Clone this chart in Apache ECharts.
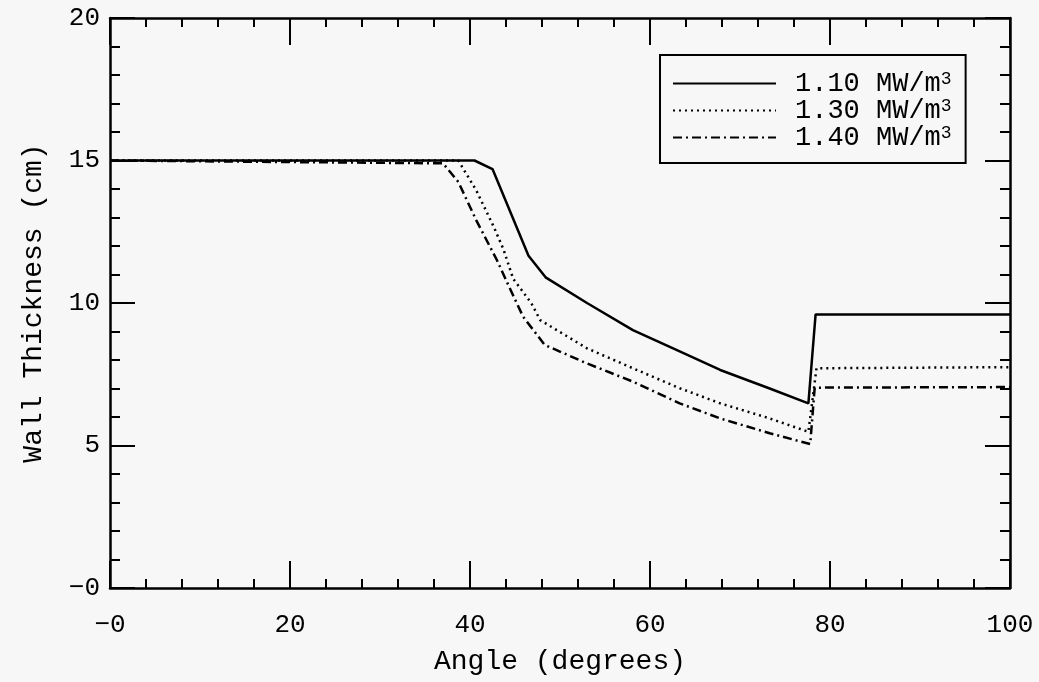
<!DOCTYPE html>
<html>
<head>
<meta charset="utf-8">
<script src="https://cdn.jsdelivr.net/npm/echarts@6/dist/echarts.min.js"></script>
<style>
  html, body { margin: 0; padding: 0; background: #f7f7f7; }
  #chart { width: 1039px; height: 682px; }
</style>
</head>
<body>
<div id="chart"></div>
<script>
// Wall thickness versus angle for three power densities
const seriesNames = ['1.10', '1.30', '1.40'];

const angle110 = [0, 40.5, 42.5, 46.5, 48.4, 53, 58.1, 63.3, 67.8, 73.3, 77.6, 78.4, 100];
const thick110 = [15, 15, 14.7, 11.66, 10.9, 10.0, 9.05, 8.3, 7.65, 7.0, 6.48, 9.6, 9.6];

const angle130 = [0, 38.7, 40.7, 42.6, 43.7, 44.8, 46.8, 47.8, 53, 58.1, 63.3, 67.8, 73.3, 77.6, 78.5, 100];
const thick130 = [15, 15, 13.95, 12.7, 11.9, 10.85, 10.0, 9.4, 8.41, 7.71, 7.01, 6.48, 5.95, 5.48, 7.71, 7.75];

const angle140 = [0, 37, 38.7, 40.7, 43, 44.3, 45.9, 48.3, 53, 58.1, 63.3, 67.8, 73.3, 77.8, 78.3, 100];
const thick140 = [15, 14.9, 14.25, 12.9, 11.5, 10.6, 9.52, 8.53, 7.88, 7.24, 6.48, 5.95, 5.43, 5.05, 7.03, 7.05];

const xTicks = [0, 20, 40, 60, 80, 100];
const yTicks = [0, 5, 10, 15, 20];

const pair = (xs, ys) => xs.map((x, i) => [x, ys[i]]);

const monoFont = 'Liberation Mono';
const ink = '#000';

function zeroLabel(v) { return v === 0 ? '\u22120' : String(v); }

function xAxisBase(pos, showLabels) {
  return {
    type: 'value', position: pos, min: xTicks[0], max: xTicks[xTicks.length - 1], interval: 20,
    axisLine: { show: true, onZero: false, lineStyle: { color: ink, width: 2.5 } },
    axisTick: { show: true, inside: true, length: 27, lineStyle: { color: ink, width: 2 } },
    minorTick: { show: true, splitNumber: 5, length: 9, lineStyle: { color: ink, width: 2 } },
    splitLine: { show: false },
    axisLabel: { show: showLabels, formatter: zeroLabel, margin: 24, color: ink, fontFamily: monoFont, fontSize: 26 },
    name: showLabels ? 'Angle (degrees)' : '',
    nameLocation: 'middle', nameGap: 60,
    nameTextStyle: { color: ink, fontFamily: monoFont, fontSize: 28 }
  };
}

function yAxisBase(pos, showLabels) {
  return {
    type: 'value', position: pos, min: yTicks[0], max: yTicks[yTicks.length - 1], interval: 5,
    axisLine: { show: true, onZero: false, lineStyle: { color: ink, width: 2.5 } },
    axisTick: { show: true, inside: true, length: 25, lineStyle: { color: ink, width: 2 } },
    minorTick: { show: true, splitNumber: 5, length: 10, lineStyle: { color: ink, width: 2 } },
    splitLine: { show: false },
    axisLabel: { show: showLabels, formatter: zeroLabel, margin: 10, color: ink, fontFamily: monoFont, fontSize: 26 },
    name: showLabels ? 'Wall Thickness (cm)' : '',
    nameLocation: 'middle', nameGap: 62,
    nameTextStyle: { color: ink, fontFamily: monoFont, fontSize: 28 }
  };
}

function lineSeries(name, data, type) {
  return {
    name: name, type: 'line', data: data, showSymbol: false, symbol: 'none',
    xAxisIndex: 0, yAxisIndex: 0, animation: false,
    lineStyle: { color: ink, width: 2.5, type: type },
    itemStyle: { color: ink }
  };
}

const chart = echarts.init(document.getElementById('chart'), null, { renderer: 'canvas' });
chart.setOption({
  backgroundColor: '#f7f7f7',
  animation: false,
  grid: { left: 110, right: 29, top: 18, bottom: 94 },
  xAxis: [xAxisBase('bottom', true), xAxisBase('top', false)],
  yAxis: [yAxisBase('left', true), yAxisBase('right', false)],
  legend: {
    show: true,
    orient: 'vertical', left: 660, top: 55,
    backgroundColor: '#f7f7f7',
    borderColor: ink, borderWidth: 2, borderRadius: 0,
    padding: [15, 14, 12, 12],
    itemWidth: 103, itemHeight: 14, itemGap: 0,
    selectedMode: false,
    itemStyle: { opacity: 0 },
    data: seriesNames.map(n => ({ name: n })),
    formatter: n => '{a|' + n + ' MW/m}{s|3}',
    textStyle: {
      color: ink, fontFamily: monoFont, fontSize: 27, padding: [0, 0, 0, 14],
      rich: {
        a: { fontFamily: monoFont, fontSize: 27, color: ink, lineHeight: 27 },
        s: { fontFamily: monoFont, fontSize: 18, color: ink, lineHeight: 13, verticalAlign: 'top' }
      }
    }
  },
  series: [
    lineSeries(seriesNames[0], pair(angle110, thick110), 'solid'),
    lineSeries(seriesNames[1], pair(angle130, thick130), [2, 4]),
    lineSeries(seriesNames[2], pair(angle140, thick140), [9, 4, 2, 4])
  ]
});
</script>
</body>
</html>
